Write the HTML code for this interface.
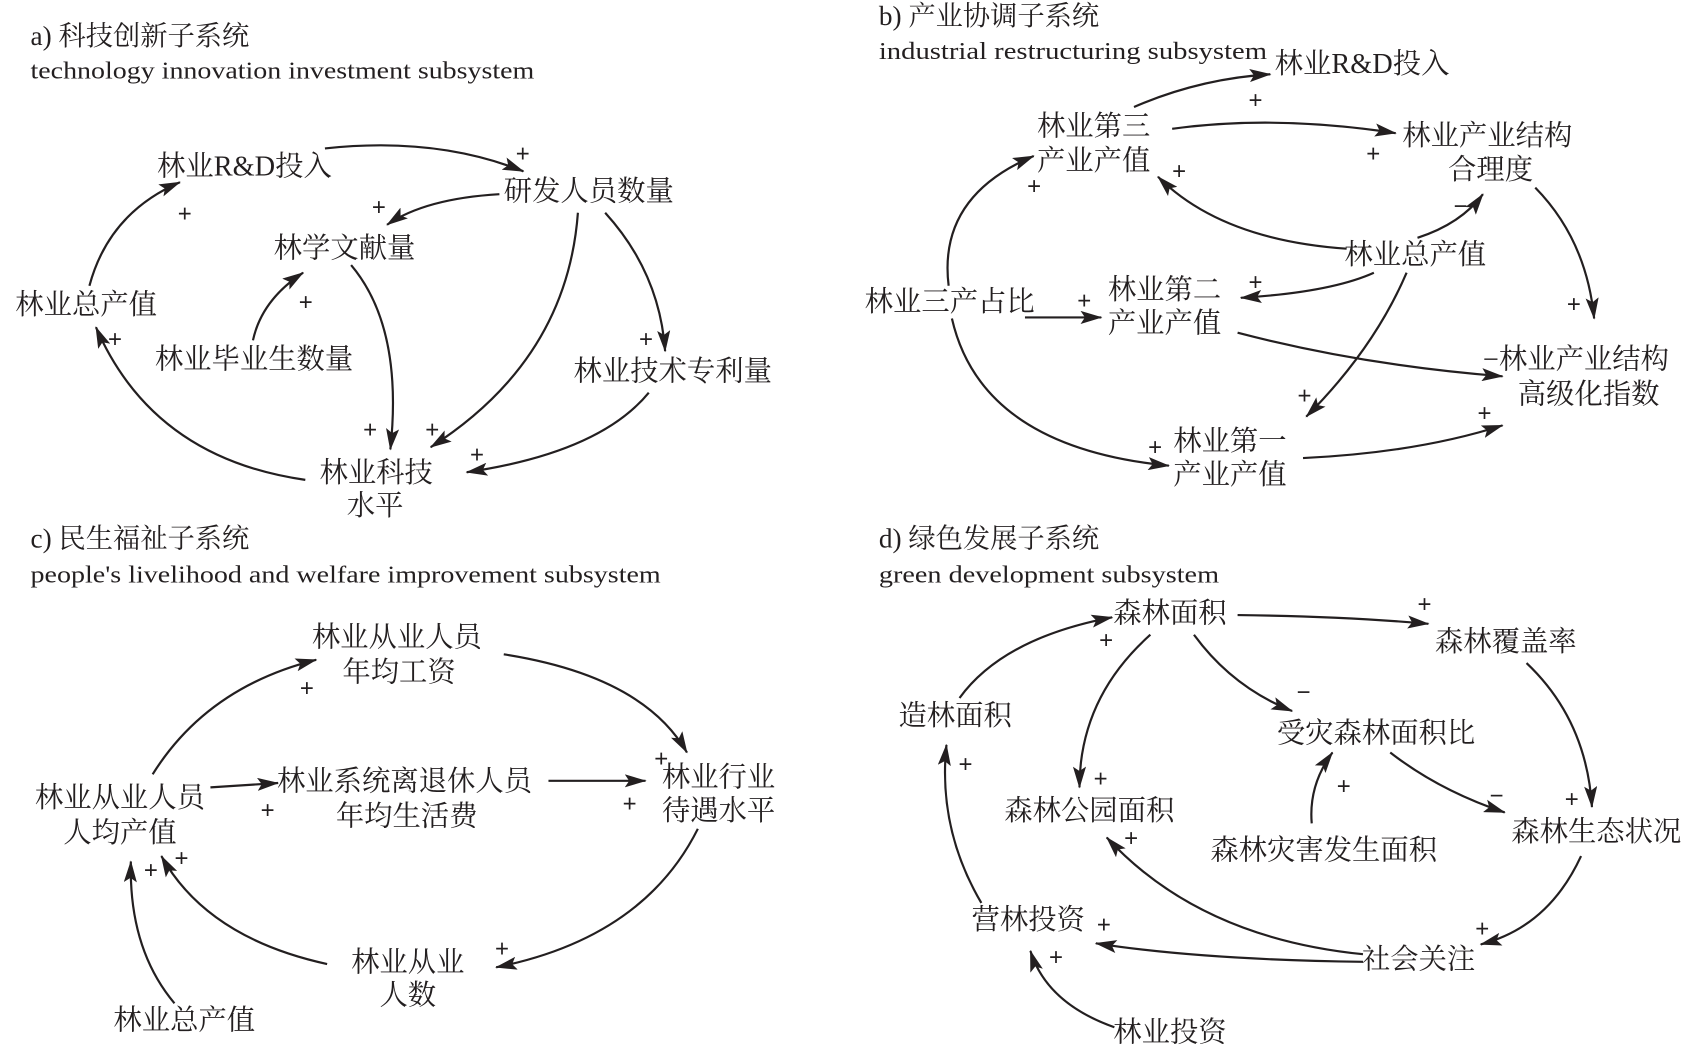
<!DOCTYPE html>
<html><head><meta charset="utf-8"><style>
html,body{margin:0;padding:0;background:#fff}
svg{display:block}
text{font-family:"Liberation Serif","Noto Serif CJK SC",serif;fill:#231f20}
.n{font-size:26px}
.t{font-size:25px}
.e{font-size:22px}
.s{font-size:22px;font-family:"Liberation Sans",sans-serif}
path{fill:none;stroke:#231f20;stroke-width:2}
</style></head><body>
<svg width="1701" height="1047" viewBox="0 0 1560 960" xmlns="http://www.w3.org/2000/svg">
<defs>
<marker id="b" viewBox="0 0 20 12" refX="19" refY="6" markerWidth="20" markerHeight="12" markerUnits="userSpaceOnUse" orient="auto"><path d="M0,0 L20,6 L0,12 L4,6 Z" style="fill:#231f20;stroke:none"/></marker></defs>
<g style="marker-end:url(#b)">
<!-- a -->
<path d="M82,262 Q100,195 165,167"/>
<path d="M298,136 Q400,125 480,157"/>
<path d="M458,178 Q390,182 355,206"/>
<path d="M232,312 Q240,275 278,250"/>
<path d="M322,243 Q370,300 358,412"/>
<path d="M530,195 Q520,330 395,410"/>
<path d="M555,195 Q605,250 610,322"/>
<path d="M595,360 Q550,415 428,433"/>
<path d="M280,440 Q140,420 88,300"/>
<!-- b -->
<path d="M1040,98 Q1100,72 1165,68"/>
<path d="M1075,118 Q1170,105 1280,122"/>
<path d="M1408,172 Q1455,220 1462,292"/>
<path d="M1300,218 Q1340,205 1360,178"/>
<path d="M1235,228 Q1120,220 1062,162"/>
<path d="M1260,250 Q1220,268 1138,273"/>
<path d="M1290,250 Q1260,320 1198,382"/>
<path d="M870,262 Q860,180 948,143"/>
<path d="M940,291 L1010,291"/>
<path d="M873,292 Q900,410 1072,427"/>
<path d="M1135,305 Q1250,335 1378,345"/>
<path d="M1195,420 Q1300,415 1378,390"/>
<!-- c -->
<path d="M140,710 Q190,630 290,605"/>
<path d="M462,600 Q590,620 630,690"/>
<path d="M193,722 L255,718"/>
<path d="M503,716 L592,716"/>
<path d="M640,760 Q590,860 455,887"/>
<path d="M300,884 Q190,860 148,785"/>
<path d="M160,920 Q118,870 120,790"/>
<!-- d -->
<path d="M880,640 Q920,585 1020,566"/>
<path d="M1135,564 Q1230,565 1310,572"/>
<path d="M1055,582 Q990,640 990,722"/>
<path d="M1095,582 Q1130,630 1185,652"/>
<path d="M1400,608 Q1455,660 1460,740"/>
<path d="M1275,690 Q1320,725 1380,745"/>
<path d="M1203,755 Q1200,720 1222,690"/>
<path d="M1450,785 Q1420,850 1358,866"/>
<path d="M1250,875 Q1100,860 1015,768"/>
<path d="M1250,882 Q1100,880 1005,865"/>
<path d="M900,828 Q860,760 868,683"/>
<path d="M1022,942 Q960,920 945,872"/>
</g>
<!-- titles -->
<text class="t" x="28" y="41">a) 科技创新子系统</text>
<text class="e" x="28" y="72" textLength="462" lengthAdjust="spacingAndGlyphs">technology innovation investment subsystem</text>
<text class="t" x="806" y="23">b) 产业协调子系统</text>
<text class="e" x="806" y="54" textLength="356" lengthAdjust="spacingAndGlyphs">industrial restructuring subsystem</text>
<text class="t" x="28" y="502">c) 民生福祉子系统</text>
<text class="e" x="28" y="534" textLength="578" lengthAdjust="spacingAndGlyphs">people's livelihood and welfare improvement subsystem</text>
<text class="t" x="806" y="502">d) 绿色发展子系统</text>
<text class="e" x="806" y="534" textLength="312" lengthAdjust="spacingAndGlyphs">green development subsystem</text>
<g transform="translate(-4,0)">
<text class="n" x="148" y="161">林业R&amp;D投入</text>
<text class="n" x="466" y="184">研发人员数量</text>
<text class="n" x="255" y="236">林学文献量</text>
<text class="n" x="18" y="288">林业总产值</text>
<text class="n" x="146" y="338">林业毕业生数量</text>
<text class="n" x="530" y="349">林业技术专利量</text>
<text class="n" x="297" y="442">林业科技</text>
<text class="n" x="322" y="472">水平</text>
<text class="n" x="1173" y="67">林业R&amp;D投入</text>
<text class="n" x="955" y="124">林业第三</text>
<text class="n" x="955" y="156">产业产值</text>
<text class="n" x="1290" y="133">林业产业结构</text>
<text class="n" x="1332" y="164">合理度</text>
<text class="n" x="1237" y="242">林业总产值</text>
<text class="n" x="797" y="285">林业三产占比</text>
<text class="n" x="1020" y="274">林业第二</text>
<text class="n" x="1020" y="305">产业产值</text>
<text class="n" x="1364" y="338">−林业产业结构</text>
<text class="n" x="1396" y="370">高级化指数</text>
<text class="n" x="1080" y="413">林业第一</text>
<text class="n" x="1080" y="444">产业产值</text>
<text class="n" x="290" y="593">林业从业人员</text>
<text class="n" x="318" y="625">年均工资</text>
<text class="n" x="36" y="740">林业从业人员</text>
<text class="n" x="62" y="772">人均产值</text>
<text class="n" x="258" y="725">林业系统离退休人员</text>
<text class="n" x="312" y="757">年均生活费</text>
<text class="n" x="611" y="721">林业行业</text>
<text class="n" x="611" y="752">待遇水平</text>
<text class="n" x="326" y="891">林业从业</text>
<text class="n" x="352" y="921">人数</text>
<text class="n" x="108" y="944">林业总产值</text>
<text class="n" x="1025" y="571">森林面积</text>
<text class="n" x="1320" y="597">森林覆盖率</text>
<text class="n" x="828" y="665">造林面积</text>
<text class="n" x="1175" y="681">受灾森林面积比</text>
<text class="n" x="925" y="752">森林公园面积</text>
<text class="n" x="1114" y="788">森林灾害发生面积</text>
<text class="n" x="1390" y="771">森林生态状况</text>
<text class="n" x="895" y="852">营林投资</text>
<text class="n" x="1253" y="888">社会关注</text>
<text class="n" x="1025" y="955">林业投资</text>
</g>
<g>
<text class="s" x="163" y="203">+</text><text class="s" x="473" y="148">+</text><text class="s" x="341" y="197">+</text><text class="s" x="274" y="284">+</text><text class="s" x="333" y="401">+</text><text class="s" x="390" y="401">+</text><text class="s" x="586" y="318">+</text><text class="s" x="431" y="424">+</text><text class="s" x="99" y="318">+</text>
<text class="s" x="1145" y="99">+</text><text class="s" x="1253" y="148">+</text><text class="s" x="1437" y="286">+</text><text class="s" x="1333" y="196">−</text><text class="s" x="1075" y="164">+</text><text class="s" x="1145" y="266">+</text><text class="s" x="1190" y="370">+</text><text class="s" x="942" y="178">+</text><text class="s" x="988" y="283">+</text><text class="s" x="1053" y="417">+</text><text class="s" x="1355" y="386">+</text>
<text class="s" x="275" y="638">+</text><text class="s" x="600" y="703">+</text><text class="s" x="239" y="750">+</text><text class="s" x="571" y="744">+</text><text class="s" x="454" y="877">+</text><text class="s" x="160" y="794">+</text><text class="s" x="132" y="805">+</text>
<text class="s" x="1008" y="594">+</text><text class="s" x="1300" y="561">+</text><text class="s" x="1003" y="721">+</text><text class="s" x="1189" y="642">−</text><text class="s" x="1435" y="740">+</text><text class="s" x="1366" y="737">−</text><text class="s" x="1226" y="728">+</text><text class="s" x="1353" y="859">+</text><text class="s" x="1031" y="776">+</text><text class="s" x="1006" y="855">+</text><text class="s" x="879" y="708">+</text><text class="s" x="962" y="885">+</text>
</g>
</svg>
</body></html>
